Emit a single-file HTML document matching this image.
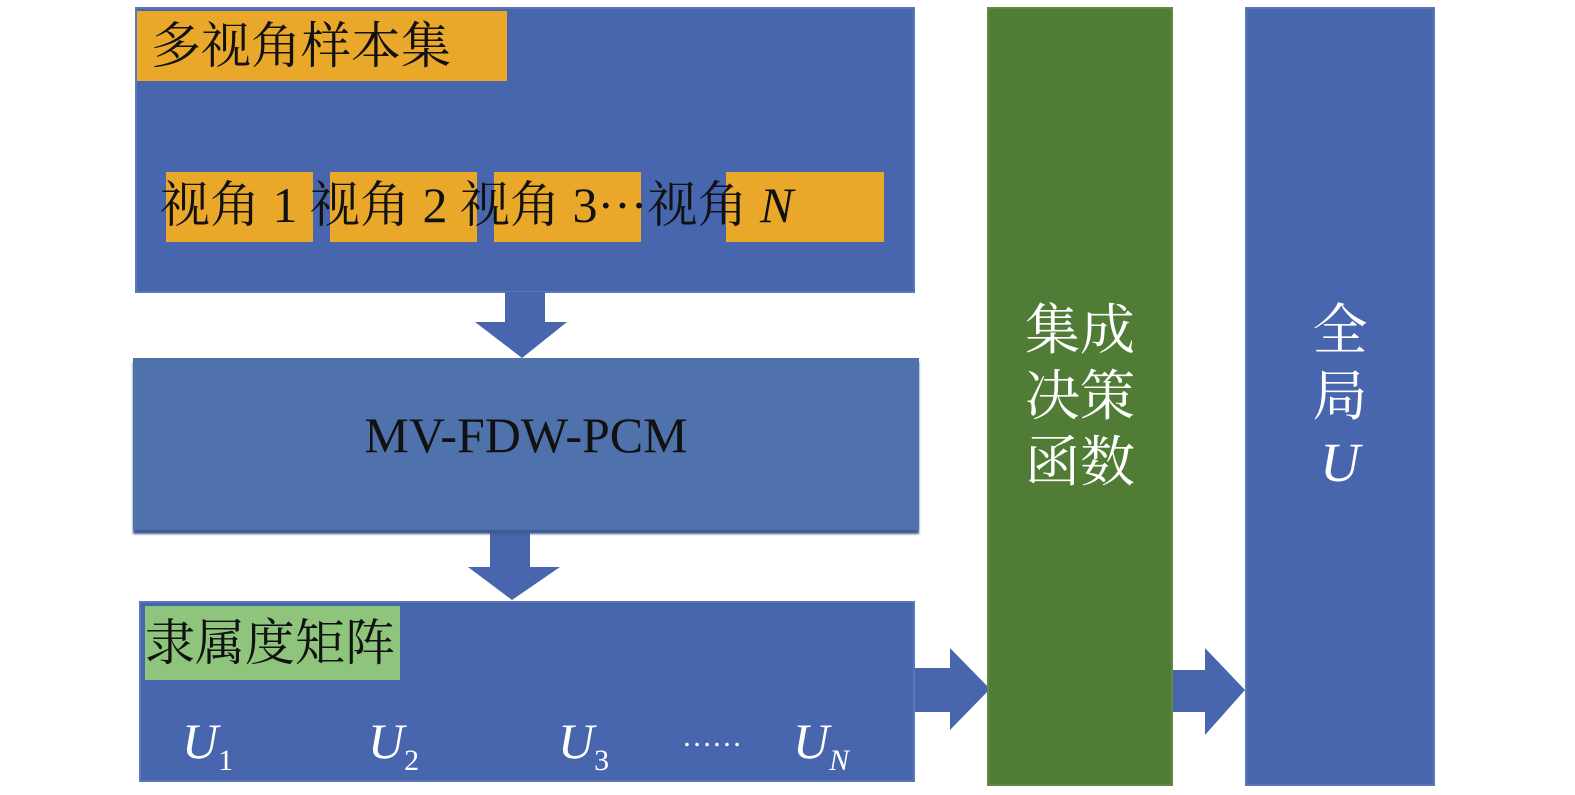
<!DOCTYPE html><html><head><meta charset="utf-8"><style>
body{margin:0;width:1575px;height:795px;background:#fff;position:relative;overflow:hidden;font-family:"Liberation Serif","Noto Serif CJK SC",serif}
div{position:absolute;box-sizing:border-box}
.b{background:#4866ae;border:2px solid #5a78b8}
.o{background:#e9a82a;font-size:50px;color:#111;line-height:70px;white-space:nowrap}
.u{color:#fff;font-style:italic;font-size:50px}
.u sub{font-size:30px;font-style:normal;vertical-align:-12px}
.ul{position:absolute;line-height:1}
.v{color:#fff;font-size:55px;text-align:center;line-height:66px}
</style></head><body>
<div class="b" style="left:135px;top:7px;width:780px;height:286px"></div>
<div class="o" style="left:137px;top:11px;width:370px;height:70px;padding-left:14px">多视角样本集</div>
<div class="o" style="left:166px;top:172px;width:147px;height:70px"></div>
<div class="o" style="left:330px;top:172px;width:147px;height:70px"></div>
<div class="o" style="left:494px;top:172px;width:147px;height:70px"></div>
<div class="o" style="left:726px;top:172px;width:158px;height:70px"></div>
<div style="left:160px;top:172px;font-size:50px;line-height:66px;color:#111;white-space:nowrap">视角 1 视角 2 视角 3···视角 <i>N</i></div>
<svg style="position:absolute;left:0;top:0" width="1575" height="795">
<polygon points="505,292 545,292 545,322 567,322 522,358 475,322 505,322" fill="#4866ae"/>
<polygon points="490,530 530,530 530,567 560,567 512,600 468,567 490,567" fill="#4866ae"/>
<polygon points="884,668 950,668 950,648 990,689 950,730 950,712 884,712" fill="#4866ae"/>
<polygon points="1148,670 1205,670 1205,648 1245,690 1205,735 1205,712 1148,712" fill="#4866ae"/>
</svg>
<div style="left:133px;top:358px;width:786px;height:172px;background:#4f72ac;box-shadow:0 4px 2px #3d5c92"></div>
<div style="left:133px;top:405px;width:786px;text-align:center;font-size:50px;color:#111;line-height:60px">MV-FDW-PCM</div>
<div class="b" style="left:139px;top:601px;width:776px;height:181px"></div>
<div style="left:145px;top:606px;width:255px;height:74px;background:#8fc47c;font-size:50px;color:#111;line-height:74px;white-space:nowrap">隶属度矩阵</div>
<div class="u" style="left:182px;top:712px">U<sub>1</sub></div>
<div class="u" style="left:368px;top:712px">U<sub>2</sub></div>
<div class="u" style="left:558px;top:712px">U<sub>3</sub></div>
<div style="left:682px;top:720px;color:#fff;font-size:30px">……</div>
<div class="u" style="left:793px;top:712px">U<sub style="font-style:italic">N</sub></div>
<div style="left:987px;top:7px;width:186px;height:779px;background:#507c35;border:2px solid #5d8a45"></div>
<div class="v" style="left:987px;top:298px;width:186px">集成<br>决策<br>函数</div>
<div class="b" style="left:1245px;top:7px;width:190px;height:779px"></div>
<div class="v" style="left:1245px;top:298px;width:190px">全<br>局<br><i>U</i></div>
</body></html>
